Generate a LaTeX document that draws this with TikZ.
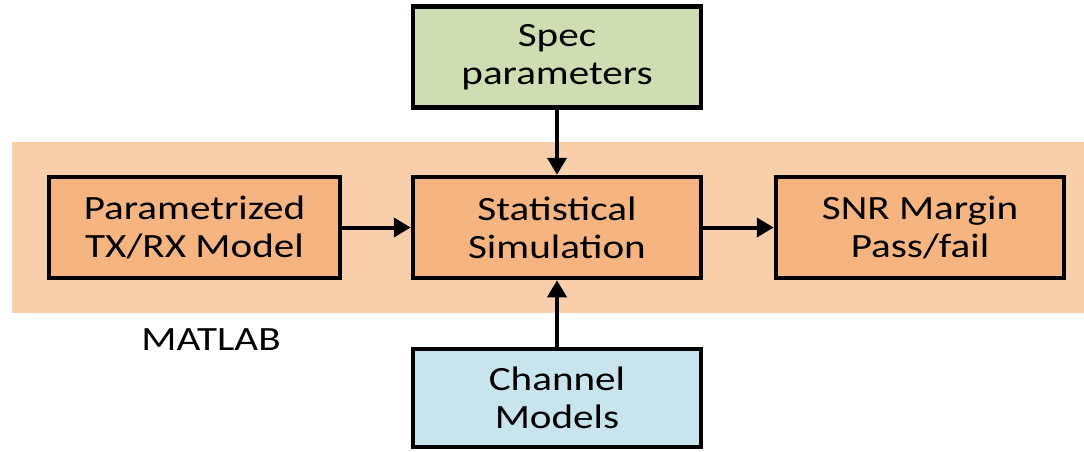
\documentclass[tikz,border=0pt]{standalone}
\usepackage{fontspec}
\setmainfont{Carlito}[FakeStretch=1.21]
\usetikzlibrary{arrows.meta}
\definecolor{bandc}{RGB}{249,206,171}
\definecolor{boxo}{RGB}{245,180,128}
\definecolor{boxg}{RGB}{207,222,178}
\definecolor{boxb}{RGB}{200,228,236}
\tikzset{
  blk/.style={draw=black, line width=4.5pt, minimum width=288pt, minimum height=101pt,
    inner sep=0pt, align=center, font=\fontsize{34}{37.7}\selectfont},
  conn/.style={line width=4pt, -{Triangle[length=17pt,width=19pt]}}
}
\begin{document}
\begin{tikzpicture}[x=1pt,y=-1pt]
\useasboundingbox (0,0) rectangle (1084,451);
\fill[bandc] (12,142) rectangle (1084,313);
\node[blk, fill=boxg] (spec) at (557,57) {Spec\\parameters};
\node[blk, fill=boxo, minimum width=291pt] (param) at (194.5,227.5) {Parametrized\\TX/RX Model};
\node[blk, fill=boxo] (stat) at (557,227.5) {Statistical\\Simulation};
\node[blk, fill=boxo] (snr) at (920,227.5) {SNR Margin\\Pass/fail};
\node[blk, fill=boxb, minimum height=98pt] (chan) at (557,398) {Channel\\Models};
\node[font=\fontsize{34}{37.7}\selectfont] (matlab) at (211,340) {MATLAB};
\draw[conn] (spec) -- (stat);
\draw[conn] (param) -- (stat);
\draw[conn] (stat) -- (snr);
\draw[conn] (chan) -- (stat);
\end{tikzpicture}
\end{document}
